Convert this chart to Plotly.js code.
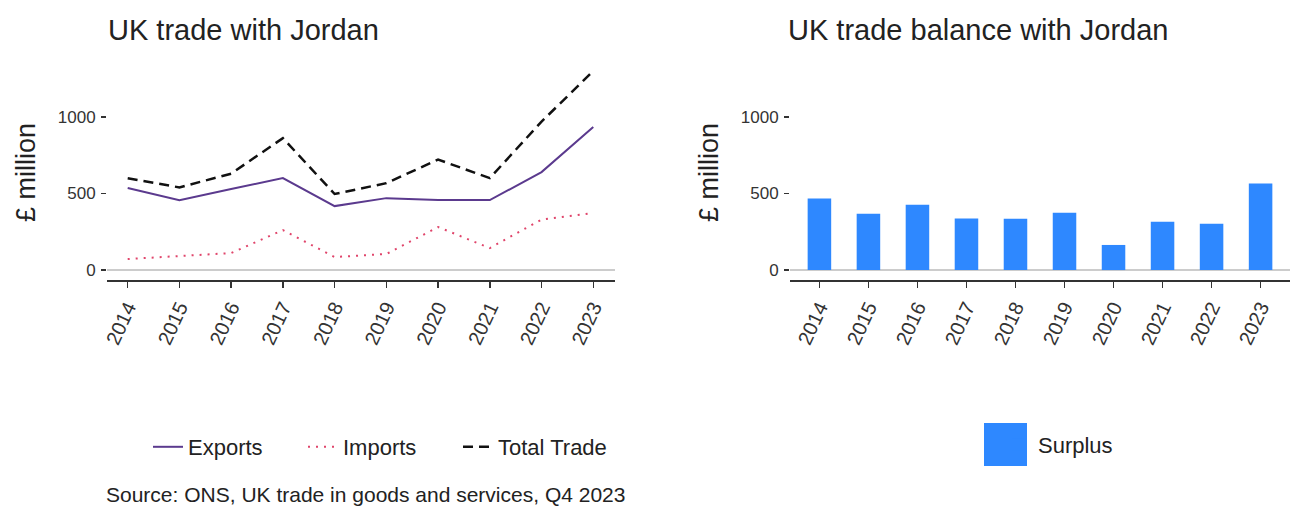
<!DOCTYPE html>
<html>
<head>
<meta charset="utf-8">
<script src="https://cdn.plot.ly/plotly-3.0.1.min.js"></script>
<style>html,body{margin:0;padding:0;background:#fff;}#chart{width:1290px;height:512px;}</style>
</head>
<body>
<div id="chart"></div>
<script>
// ---- data ----
const years = ["2014","2015","2016","2017","2018","2019","2020","2021","2022","2023"];
const exportsVals = [536, 457, 530, 601, 418, 470, 457, 457, 640, 935];
const importsVals = [72, 91, 111, 261, 85, 105, 281, 144, 330, 373];
const totalVals   = [600, 540, 630, 862, 497, 568, 722, 601, 970, 1301];
const surplusVals = [467, 368, 427, 337, 335, 375, 164, 316, 302, 566];
const yTickVals = [0, 500, 1000];
const yTickText = ["0", "500", "1000"];

const FONT = "Liberation Sans, Arial, sans-serif";
const W = 1290, H = 512;
const px = v => v / W;
const py = v => (H - v) / H;

const traces = [
  {x: years, y: exportsVals, type: "scatter", mode: "lines", name: "Exports",
   line: {color: "#5B3A8E", width: 2}, xaxis: "x", yaxis: "y", legend: "legend"},
  {x: years, y: importsVals, type: "scatter", mode: "lines", name: "Imports",
   line: {color: "#E0456B", width: 2, dash: "2px,6px"}, xaxis: "x", yaxis: "y", legend: "legend"},
  {x: years, y: totalVals, type: "scatter", mode: "lines", name: "Total Trade",
   line: {color: "#111111", width: 2.5, dash: "10px,6px"}, xaxis: "x", yaxis: "y", legend: "legend"},
  {x: years, y: surplusVals, type: "bar", name: "Surplus", width: 0.48,
   marker: {color: "#2E88FF"}, xaxis: "x2", yaxis: "y2", legend: "legend2"}
];

const yDom = [py(280), py(65)];
const xAxisCommon = {
  type: "category", showgrid: false, zeroline: false,
  showline: true, linecolor: "#333", linewidth: 2,
  ticks: "outside", ticklen: 6, tickwidth: 1.5, tickcolor: "#333",
  tickangle: -65, tickfont: {family: FONT, size: 20, color: "#333"},
  fixedrange: true
};
const yAxisCommon = {
  range: [-65, 1340], showgrid: false, showline: false,
  zeroline: true, zerolinecolor: "#cccccc", zerolinewidth: 2,
  tickvals: yTickVals, ticktext: yTickText,
  ticks: "outside", ticklen: 5, tickwidth: 1.5, tickcolor: "#333",
  ticklabelstandoff: 2,
  tickfont: {family: FONT, size: 17, color: "#333"},
  domain: yDom, fixedrange: true
};

const layout = {
  width: W, height: H,
  margin: {l: 0, r: 0, t: 0, b: 0},
  paper_bgcolor: "#fff", plot_bgcolor: "#fff",
  font: {family: FONT, color: "#222"},
  showlegend: true,
  xaxis: Object.assign({}, xAxisCommon, {domain: [px(107), px(615)], range: [-0.4, 9.42], anchor: "y"}),
  yaxis: Object.assign({}, yAxisCommon, {anchor: "x",
    title: {text: "£ million", font: {family: FONT, size: 27, color: "#222"}, standoff: 14}}),
  xaxis2: Object.assign({}, xAxisCommon, {domain: [px(790), 1], range: [-0.6, 9.6], anchor: "y2"}),
  yaxis2: Object.assign({}, yAxisCommon, {anchor: "x2",
    title: {text: "£ million", font: {family: FONT, size: 27, color: "#222"}, standoff: 14}}),
  legend: {
    orientation: "h", x: px(148), xanchor: "left", y: py(447), yanchor: "middle",
    font: {family: FONT, size: 22, color: "#222"}, entrywidth: 110, bgcolor: "rgba(0,0,0,0)"
  },
  legend2: {
    orientation: "h", x: px(998), xanchor: "left", y: py(445), yanchor: "middle",
    font: {family: FONT, size: 22, color: "#222"}, bgcolor: "rgba(0,0,0,0)"
  },
  shapes: [
    {type: "rect", xref: "paper", yref: "paper", x0: px(984), x1: px(1027), y0: py(466), y1: py(423),
     fillcolor: "#2E88FF", line: {width: 0}, layer: "below"}
  ],
  annotations: [
    {text: "UK trade with Jordan", xref: "paper", yref: "paper", x: px(106), y: py(30),
     xanchor: "left", yanchor: "middle", showarrow: false, font: {family: FONT, size: 29, color: "#222"}},
    {text: "UK trade balance with Jordan", xref: "paper", yref: "paper", x: px(786), y: py(30),
     xanchor: "left", yanchor: "middle", showarrow: false, font: {family: FONT, size: 29, color: "#222"}},
    {text: "Source: ONS, UK trade in goods and services, Q4 2023", xref: "paper", yref: "paper",
     x: px(104), y: py(494), xanchor: "left", yanchor: "middle", showarrow: false,
     font: {family: FONT, size: 21, color: "#222"}}
  ]
};

Plotly.newPlot("chart", traces, layout, {displayModeBar: false, staticPlot: true});
</script>
</body>
</html>
